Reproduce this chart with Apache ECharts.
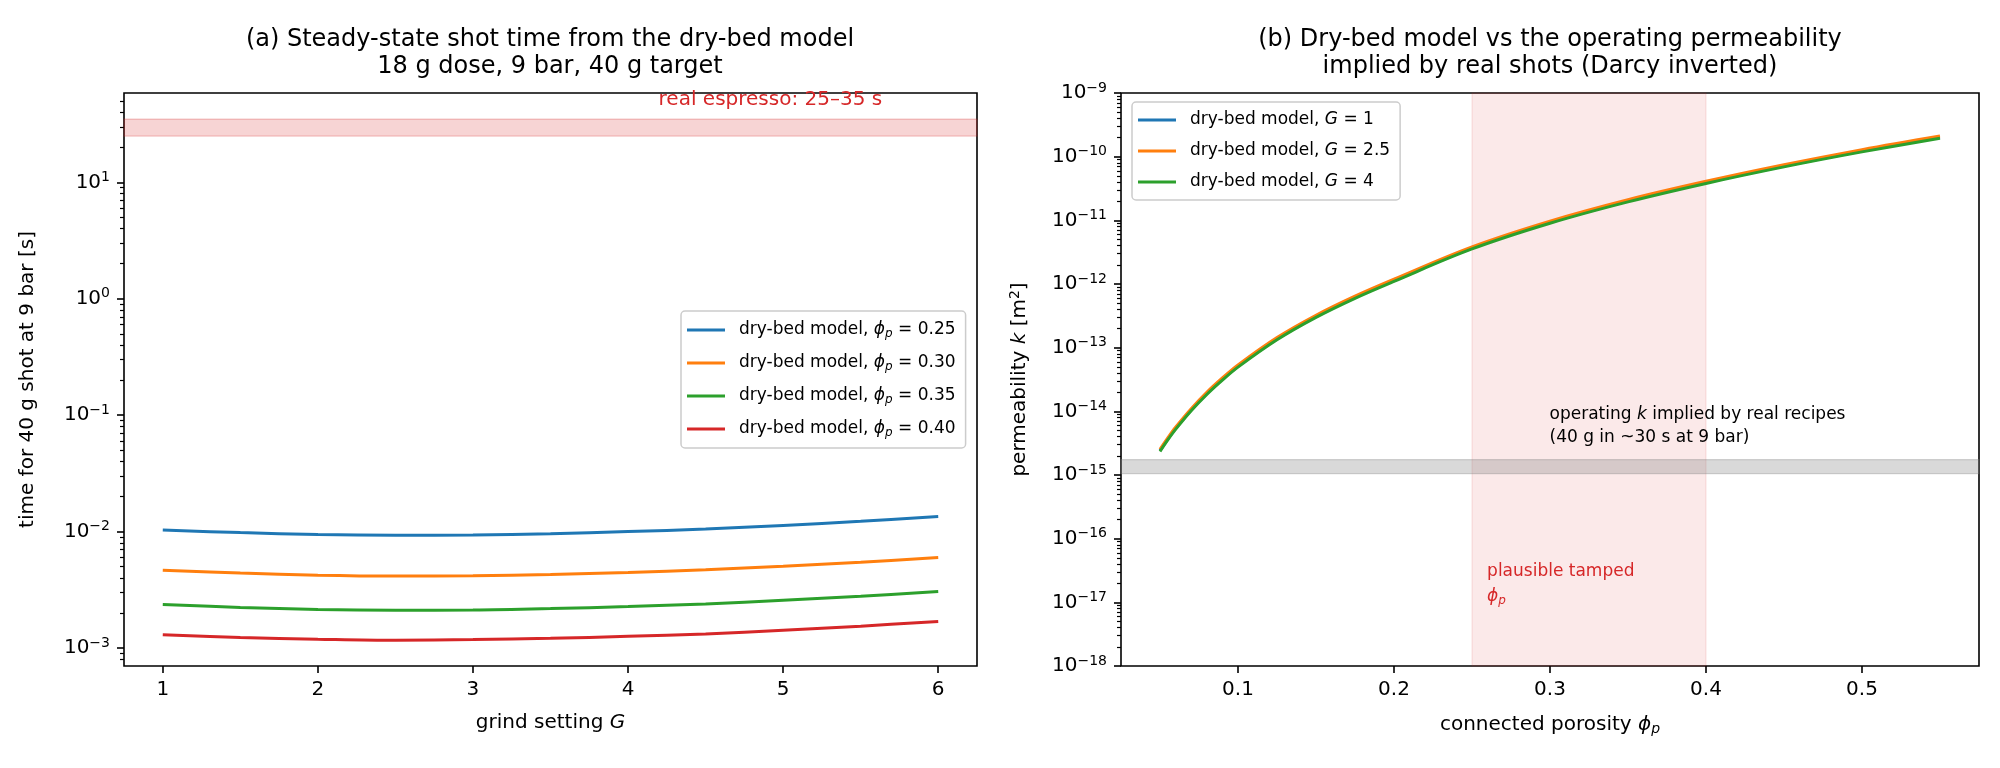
<!DOCTYPE html>
<html>
<head>
<meta charset="utf-8">
<script src="https://cdn.jsdelivr.net/npm/echarts@6/dist/echarts.min.js"></script>
<style>
  html, body { margin: 0; padding: 0; background: #fff; }
  #main { width: 2000px; height: 768px; }
</style>
</head>
<body>
<div id="main"></div>
<script>
// panel (a): shot time vs grind setting, one curve per porosity
const grind = [1, 1.5, 2, 2.5, 3, 3.5, 4, 4.5, 5, 5.5, 6];
const phiLabels = ['0.25', '0.30', '0.35', '0.40'];
const shotTime025 = [1.03e-2, 9.8e-3, 9.42e-3, 9.29e-3, 9.35e-3, 9.6e-3, 1.0e-2, 1.05e-2, 1.13e-2, 1.226e-2, 1.346e-2];
const shotTime030 = [4.65e-3, 4.40e-3, 4.22e-3, 4.15e-3, 4.17e-3, 4.28e-3, 4.46e-3, 4.70e-3, 5.03e-3, 5.46e-3, 5.98e-3];
const shotTime035 = [2.36e-3, 2.23e-3, 2.14e-3, 2.11e-3, 2.12e-3, 2.18e-3, 2.27e-3, 2.39e-3, 2.57e-3, 2.78e-3, 3.05e-3];
const shotTime040 = [1.30e-3, 1.23e-3, 1.19e-3, 1.165e-3, 1.18e-3, 1.21e-3, 1.26e-3, 1.32e-3, 1.42e-3, 1.54e-3, 1.69e-3];
const espressoBand = [25, 35];

// panel (b): permeability vs porosity, one curve per grind setting
const porosity = [0.05, 0.055, 0.06, 0.07, 0.08, 0.09, 0.1, 0.125, 0.15, 0.175, 0.2, 0.25, 0.3, 0.35, 0.4, 0.45, 0.5, 0.55];
const gLabels = ['1', '2.5', '4'];
const permG1 = [2.41e-15, 3.66e-15, 5.36e-15, 1.05e-14, 1.9e-14, 3.18e-14, 5.1e-14, 1.37e-13, 3.08e-13, 6.14e-13, 1.13e-12, 3.66e-12, 9.27e-12, 2.01e-11, 3.91e-11, 7.13e-11, 1.23e-10, 2.01e-10];
const permG25 = [2.53e-15, 3.83e-15, 5.62e-15, 1.1e-14, 1.99e-14, 3.34e-14, 5.35e-14, 1.44e-13, 3.23e-13, 6.44e-13, 1.19e-12, 3.83e-12, 9.72e-12, 2.11e-11, 4.1e-11, 7.47e-11, 1.29e-10, 2.11e-10];
const permG4 = [2.34e-15, 3.55e-15, 5.2e-15, 1.02e-14, 1.84e-14, 3.09e-14, 4.95e-14, 1.33e-13, 2.99e-13, 5.96e-13, 1.10e-12, 3.55e-12, 9.0e-12, 1.95e-11, 3.8e-11, 6.92e-11, 1.19e-10, 1.95e-10];
const tampedBand = [0.25, 0.40];
const operatingBand = [1.05e-15, 1.75e-15];

// ticks
const xTicksA = [1, 2, 3, 4, 5, 6];
const yTicksA = [1e-3, 1e-2, 1e-1, 1, 10];
const xTicksB = [0.1, 0.2, 0.3, 0.4, 0.5];
const yTicksB = [1e-18, 1e-17, 1e-16, 1e-15, 1e-14, 1e-13, 1e-12, 1e-11, 1e-10, 1e-9];

const colors = ['#1f77b4', '#ff7f0e', '#2ca02c', '#d62728'];
const FONT = 'DejaVu Sans';

function minorTicks(decades, lo, hi) {
  const out = [];
  decades.forEach(function (d) {
    for (let m = 2; m <= 9; m++) {
      const v = +(m * d).toPrecision(3);
      if (v > lo && v < hi) out.push(v);
    }
  });
  return out;
}

function powLabel(v) {
  const e = Math.round(Math.log10(v));
  return '{b|10}{s|' + (e < 0 ? '\u2212' + (-e) : e) + '}';
}

const powRich = {
  b: { fontSize: 20, fontFamily: FONT, color: '#000' },
  s: { fontSize: 14, fontFamily: FONT, color: '#000', padding: [0, 0, 10, 0] }
};
const nameRich = {
  i: { fontSize: 20, fontFamily: FONT, color: '#000', fontStyle: 'italic' },
  sub: { fontSize: 14, fontFamily: FONT, color: '#000', fontStyle: 'italic', padding: [9, 0, 0, 0] },
  s: { fontSize: 14, fontFamily: FONT, color: '#000', padding: [0, 0, 10, 0] }
};

const yMinA = 7.0e-4, yMaxA = 58.6;
const minorA = minorTicks([1e-4, 1e-3, 1e-2, 1e-1, 1, 10], yMinA, yMaxA);
const minorB = minorTicks(yTicksB.slice(0, -1), 1e-18, 1e-9);

const tick = { length: 7, lineStyle: { color: '#000', width: 1.6 } };
const minorTick = { length: 4, lineStyle: { color: '#000', width: 1.2 } };
const label = { margin: 14, fontSize: 20, color: '#000', fontFamily: FONT };
const axisName = { fontSize: 20, color: '#000', fontFamily: FONT, rich: nameRich };

function xAxis(grid, min, max, ticks, name) {
  return {
    gridIndex: grid, type: 'value', min: min, max: max, position: 'bottom',
    axisLine: { show: false }, splitLine: { show: false },
    axisTick: Object.assign({ customValues: ticks }, tick),
    axisLabel: Object.assign({ customValues: ticks }, label),
    name: name, nameLocation: 'middle', nameGap: 47, nameTextStyle: axisName
  };
}
function yAxisMajor(grid, min, max, ticks, name, gap) {
  return {
    gridIndex: grid, type: 'log', logBase: 10, min: min, max: max, position: 'left',
    axisLine: { show: false }, splitLine: { show: false },
    axisTick: Object.assign({ customValues: ticks }, tick),
    axisLabel: Object.assign({ customValues: ticks, formatter: powLabel, rich: powRich }, label),
    name: name, nameLocation: 'middle', nameRotate: 90, nameGap: gap, nameTextStyle: axisName
  };
}
function yAxisMinor(grid, min, max, ticks) {
  return {
    gridIndex: grid, type: 'log', logBase: 10, min: min, max: max, position: 'left', offset: 0,
    axisLine: { show: false }, splitLine: { show: false },
    axisTick: Object.assign({ customValues: ticks }, minorTick),
    axisLabel: { show: false }
  };
}

function pairs(xs, ys) {
  return xs.map(function (x, i) { return [x, ys[i]]; });
}

const seriesA = [shotTime025, shotTime030, shotTime035, shotTime040].map(function (ys, i) {
  return {
    name: 'dry-bed model, \u03d5p = ' + phiLabels[i],
    type: 'line', xAxisIndex: 0, yAxisIndex: 0, z: 3,
    data: pairs(grind, ys), smooth: 0.35, symbol: 'none',
    lineStyle: { color: colors[i], width: 3 }, itemStyle: { color: colors[i] }
  };
});
const seriesB = [permG1, permG25, permG4].map(function (ys, i) {
  return {
    name: 'dry-bed model, G = ' + gLabels[i],
    type: 'line', xAxisIndex: 1, yAxisIndex: 2, z: 3,
    data: pairs(porosity, ys), smooth: 0.35, symbol: 'none',
    lineStyle: { color: colors[i], width: 3 }, itemStyle: { color: colors[i] }
  };
});

function textMark(coord, text, color, size, lh) {
  return {
    coord: coord,
    label: {
      show: true, formatter: text, position: [0, 0], align: 'left', verticalAlign: 'bottom',
      color: color, fontSize: size, lineHeight: lh, fontFamily: FONT,
      rich: {
        i: { fontSize: size, lineHeight: lh, fontFamily: FONT, color: color, fontStyle: 'italic' },
        sub: { fontSize: size - 5, fontFamily: FONT, color: color, fontStyle: 'italic', padding: [8, 0, 0, 0] }
      }
    }
  };
}

const bandA = {
  type: 'line', xAxisIndex: 0, yAxisIndex: 0, z: 1, data: [], silent: true,
  markArea: {
    silent: true, label: { show: false },
    itemStyle: { color: 'rgba(214,39,40,0.2)', borderColor: 'rgba(214,39,40,0.25)', borderWidth: 1.2 },
    data: [[{ yAxis: espressoBand[0] }, { yAxis: espressoBand[1] }]]
  },
  markPoint: {
    silent: true, symbol: 'circle', symbolSize: 1, itemStyle: { color: 'rgba(0,0,0,0)' },
    data: [textMark([4.2, 40], 'real espresso: 25\u201335 s', '#d62728', 20, 24)]
  }
};
const bandB = {
  type: 'line', xAxisIndex: 1, yAxisIndex: 2, z: 1, data: [], silent: true,
  markArea: {
    silent: true, label: { show: false },
    data: [
      [{ xAxis: tampedBand[0], itemStyle: { color: 'rgba(214,39,40,0.1)', borderColor: 'rgba(214,39,40,0.12)', borderWidth: 1.2 } },
       { xAxis: tampedBand[1] }],
      [{ yAxis: operatingBand[0], itemStyle: { color: 'rgba(128,128,128,0.3)', borderColor: 'rgba(128,128,128,0.3)', borderWidth: 1.2 } },
       { yAxis: operatingBand[1] }]
    ]
  },
  markPoint: {
    silent: true, symbol: 'circle', symbolSize: 1, itemStyle: { color: 'rgba(0,0,0,0)' },
    data: [
      textMark([0.3, 2.5e-15], 'operating {i|k} implied by real recipes\n(40 g in ~30 s at 9 bar)', '#000', 17, 23),
      textMark([0.26, 7.6e-18], 'plausible tamped\n{i|\u03d5}{sub|p}', '#d62728', 17, 25)
    ]
  }
};

const legendRich = {
  i: { fontSize: 17, fontFamily: FONT, color: '#000', fontStyle: 'italic', lineHeight: 20 },
  sub: { fontSize: 12, fontFamily: FONT, color: '#000', fontStyle: 'italic', padding: [8, 0, 0, 0] }
};
function legend(left, top, data, pad) {
  return {
    left: left, top: top, orient: 'vertical', data: data,
    icon: 'rect', itemWidth: 38, itemHeight: 3, itemGap: pad[0],
    padding: pad[1], backgroundColor: 'rgba(255,255,255,0.8)',
    borderColor: '#cccccc', borderWidth: 1.5, borderRadius: 4,
    selectedMode: false,
    textStyle: { fontSize: 17, fontFamily: FONT, color: '#000', lineHeight: 20, padding: [0, 0, 0, 9], rich: legendRich },
    formatter: function (name) {
      return name.replace('\u03d5p', '{i|\u03d5}{sub|p}').replace('G =', '{i|G} =');
    }
  };
}

const chart = echarts.init(document.getElementById('main'), null, { renderer: 'canvas' });
chart.setOption({
  animation: false,
  backgroundColor: '#fff',
  textStyle: { fontFamily: FONT },
  title: [
    { text: '(a) Steady-state shot time from the dry-bed model\n18 g dose, 9 bar, 40 g target',
      left: 550, top: 26, textAlign: 'center', padding: 0,
      textStyle: { fontSize: 24, fontWeight: 'normal', color: '#000', lineHeight: 27, fontFamily: FONT } },
    { text: '(b) Dry-bed model vs the operating permeability\nimplied by real shots (Darcy inverted)',
      left: 1550, top: 26, textAlign: 'center', padding: 0,
      textStyle: { fontSize: 24, fontWeight: 'normal', color: '#000', lineHeight: 27, fontFamily: FONT } }
  ],
  legend: [
    legend(681, 311, seriesA.map(function (s) { return s.name; }), [13, [9, 10, 9, 6]]),
    legend(1132, 102, seriesB.map(function (s) { return s.name; }), [11, [8, 10, 8, 6]])
  ],
  grid: [
    { left: 124, top: 93, width: 853, height: 573, show: true, borderColor: '#000', borderWidth: 1.6, backgroundColor: 'transparent' },
    { left: 1121, top: 93, width: 858, height: 573, show: true, borderColor: '#000', borderWidth: 1.6, backgroundColor: 'transparent' }
  ],
  xAxis: [
    xAxis(0, 0.75, 6.25, xTicksA, 'grind setting {i|G}'),
    xAxis(1, 0.025, 0.575, xTicksB, 'connected porosity {i|\u03d5}{sub|p}')
  ],
  yAxis: [
    yAxisMajor(0, yMinA, yMaxA, yTicksA, 'time for 40 g shot at 9 bar [s]', 86),
    yAxisMinor(0, yMinA, yMaxA, minorA),
    yAxisMajor(1, 1e-18, 1e-9, yTicksB, 'permeability {i|k} [m{s|2}]', 89),
    yAxisMinor(1, 1e-18, 1e-9, minorB)
  ],
  series: [bandA, bandB].concat(seriesA, seriesB)
});
</script>
</body>
</html>
